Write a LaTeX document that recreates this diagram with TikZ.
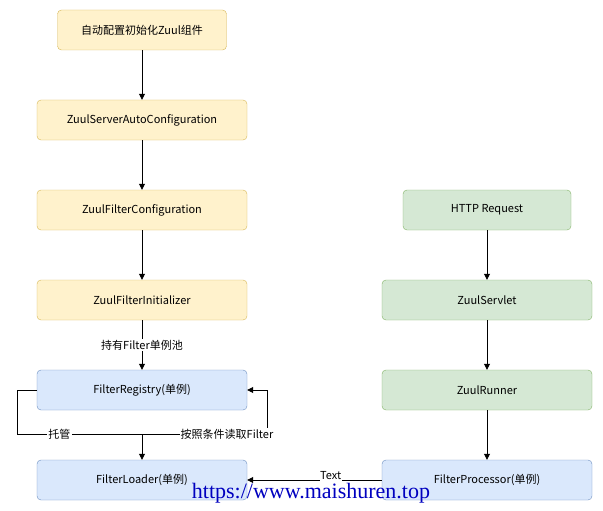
\documentclass[tikz,border=0pt]{standalone}
\usepackage{fontspec}
\setmainfont{Noto Sans CJK SC}
\newfontfamily\wm{Liberation Serif}
\usetikzlibrary{arrows.meta}
\definecolor{yf}{HTML}{FFF2CC}\definecolor{yd}{HTML}{D6B656}
\definecolor{gf}{HTML}{D5E8D4}\definecolor{gd}{HTML}{82B366}
\definecolor{bf}{HTML}{DAE8FC}\definecolor{bd}{HTML}{6C8EBF}
\begin{document}
\begin{tikzpicture}[x=1pt,y=-1pt,
 box/.style={draw,rounded corners=4pt,minimum height=40pt,font=\fontsize{11}{13}\selectfont,inner sep=0pt},
 yb/.style={box,fill=yf,draw=yd}, gb/.style={box,fill=gf,draw=gd}, bb/.style={box,fill=bf,draw=bd},
 arr/.style={-{Triangle[length=6pt,width=6pt]},line width=0.8pt},
 lbl/.style={fill=white,inner sep=1pt,font=\fontsize{11}{13}\selectfont}]
\useasboundingbox (0,0) rectangle (603,511);
\node[yb,minimum width=169pt] (a) at (142,30) {自动配置初始化Zuul组件};
\node[yb,minimum width=210pt] (b) at (142,120) {ZuulServerAutoConfiguration};
\node[yb,minimum width=210pt] (c) at (142,210) {ZuulFilterConfiguration};
\node[yb,minimum width=210pt] (d) at (142,300) {ZuulFilterInitializer};
\node[bb,minimum width=210pt] (r) at (142,390) {FilterRegistry(单例)};
\node[bb,minimum width=210pt] (l) at (142,480) {FilterLoader(单例)};
\node[gb,minimum width=168pt] (h) at (487,210) {HTTP Request};
\node[gb,minimum width=210pt] (s) at (487,300) {ZuulServlet};
\node[gb,minimum width=210pt] (u) at (487,390) {ZuulRunner};
\node[bb,minimum width=210pt] (p) at (487,480) {FilterProcessor(单例)};
\draw[arr] (a) -- (b);
\draw[arr] (b) -- (c);
\draw[arr] (c) -- (d);
\draw[arr] (d) -- node[lbl] {持有Filter单例池} (r);
\draw[arr] (h) -- (s);
\draw[arr] (s) -- (u);
\draw[arr] (u) -- (p);
\coordinate (j) at (142,434);
\draw[arr] (r.west) -- (17,390) -- (17,434) -- node[lbl,pos=0.34] {托管} (j) -- (l.north);
\draw[arr] (j) -- node[lbl,pos=0.68] {按照条件读取Filter} (267,434) -- (267,390) -- (r.east);
\draw[arr] (p.west) -- node[lbl,pos=0.38,above,inner sep=0.5pt,yshift=-1pt] {Text} (l.east);
\node[text=blue!75!black,font=\wm\fontsize{22}{24}\selectfont] (w) at (311,493) {https://www.maishuren.top};
\end{tikzpicture}
\end{document}
